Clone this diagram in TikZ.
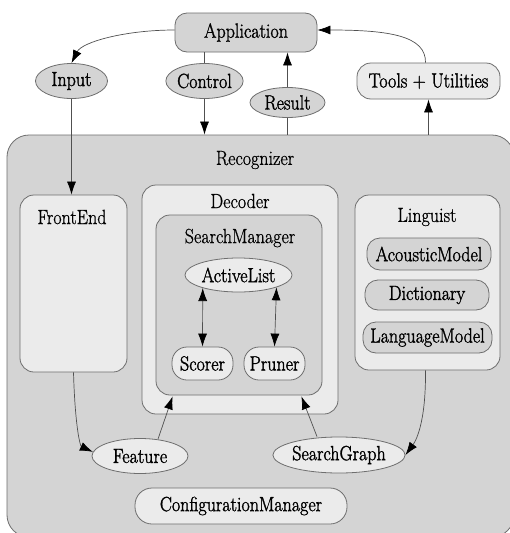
\documentclass[tikz,border=0pt]{standalone}
\usepackage{fontspec}
\usepackage{graphicx}
\setmainfont{Latin Modern Roman}[FakeBold=0.8]
\newfontfamily\lblfont{Latin Modern Roman}[FakeBold=1.6]
\usetikzlibrary{shapes.geometric,arrows.meta,calc}
\definecolor{dk}{HTML}{D4D4D4}
\definecolor{lt}{HTML}{EBEBEB}
\definecolor{bd}{HTML}{6E6E6E}
\definecolor{ln}{HTML}{505050}
\newcommand{\cz}[1]{\scalebox{0.88}[1]{#1}}
\begin{document}
\begin{tikzpicture}[x=1pt,y=-1pt,
  every node/.style={font=\fontsize{20.5}{24}\selectfont, inner sep=0pt},
  boxdk/.style={draw=bd, line width=0.8pt, fill=dk, rectangle, rounded corners=14pt},
  boxlt/.style={draw=bd, line width=0.8pt, fill=lt, rectangle, rounded corners=14pt},
  pilldk/.style={draw=bd, line width=0.8pt, fill=dk, rectangle, rounded corners=13pt, font=\lblfont\fontsize{20.5}{24}\selectfont},
  pilllt/.style={draw=bd, line width=0.8pt, fill=lt, rectangle, rounded corners=14pt, font=\lblfont\fontsize{20.5}{24}\selectfont},
  elldk/.style={draw=bd, line width=0.8pt, fill=dk, ellipse, font=\lblfont\fontsize{20.5}{24}\selectfont},
  elllt/.style={draw=bd, line width=0.8pt, fill=lt, ellipse, font=\lblfont\fontsize{20.5}{24}\selectfont},
  plain/.style={draw=ln, line width=0.7pt},
  arr/.style={draw=ln, line width=0.7pt, -{Latex[length=13pt,width=9pt,color=black]}},
  darr/.style={draw=ln, line width=0.7pt, {Latex[length=13pt,width=9pt,color=black]}-{Latex[length=13pt,width=9pt,color=black]}}]
\useasboundingbox (0,0) rectangle (510,533);
\fill[white] (0,0) rectangle (510,533);

% Recognizer
\node[boxdk, rounded corners=22pt, minimum width=507pt, minimum height=402pt] (rec) at (260.5,336) {};
\node (reclbl) at (255,160) {\cz{Recognizer}};

% top level
\node[pilldk, rounded corners=12pt, minimum width=142pt, minimum height=39pt] (app) at (246,32.5) {\cz{Application}};
\node[elldk, minimum width=72pt, minimum height=35pt] (inp) at (71.5,81) {\cz{Input}};
\node[elldk, minimum width=70pt, minimum height=35pt] (ctrl) at (204.5,81) {\cz{Control}};
\node[elldk, minimum width=75pt, minimum height=30pt] (res) at (287.5,102.5) {\cz{Result}};
\node[pilllt, rounded corners=14pt, minimum width=143pt, minimum height=36pt] (tools) at (428.5,81) {\cz{Tools + Utilities}};

% FrontEnd
\node[boxlt, minimum width=107pt, minimum height=177pt] (fe) at (73.5,283.5) {};
\node (felbl) at (72,217) {\cz{FrontEnd}};

% Decoder
\node[boxlt, minimum width=196pt, minimum height=229pt] (dec) at (240,299.5) {};
\node (declbl) at (240,201) {\cz{Decoder}};
\node[boxdk, minimum width=166pt, minimum height=180pt] (sm) at (239,305) {};
\node (smlbl) at (240,238) {\cz{SearchManager}};
\node[elllt, minimum width=107pt, minimum height=34pt] (al) at (238.5,275) {\cz{ActiveList}};
\node[pilllt, rounded corners=15pt, minimum width=61pt, minimum height=33pt] (sc) at (202.5,363.5) {\cz{Scorer}};
\node[pilllt, rounded corners=15pt, minimum width=61pt, minimum height=33pt] (pr) at (274.5,363.5) {\cz{Pruner}};

% Linguist
\node[boxlt, minimum width=145pt, minimum height=175pt] (ling) at (427.5,282.5) {};
\node (linglbl) at (427,217) {\cz{Linguist}};
\node[pilldk, minimum width=124pt, minimum height=32pt] (am) at (429,254) {\cz{AcousticModel}};
\node[pilldk, minimum width=124pt, minimum height=30pt] (dict) at (427,295) {\cz{Dictionary}};
\node[pilldk, minimum width=129pt, minimum height=31pt] (lm) at (427.5,337.5) {\cz{LanguageModel}};

% bottom
\node[elllt, minimum width=96pt, minimum height=35pt] (feat) at (140,456) {\cz{Feature}};
\node[elllt, minimum width=122pt, minimum height=36pt] (sg) at (339,455) {\cz{SearchGraph}};
\node[pilllt, rounded corners=17pt, minimum width=212pt, minimum height=36pt] (cm) at (241,506) {\cz{ConfigurationManager}};

% connectors top
\draw[arr] (app.west |- 0,30) .. controls (125,30) and (82,42) .. (inp.north);
\draw[plain] (app.south -| ctrl.north) -- (ctrl.north);
\draw[arr] (ctrl.south) -- (ctrl.south |- rec.north);
\draw[plain] (res.south |- rec.north) -- (res.south);
\draw[arr] (res.north) -- (res.north |- app.south);
\draw[arr] (tools.south |- rec.north) -- (tools.south);
\draw[arr] ($(tools.north)+(-3,0)$) .. controls (426,36) and (390,30) .. (app.east |- 0,30);
\draw[arr] (inp.south) -- (inp.south |- fe.north);

% inside
\draw[darr] (al.200) -- (sc.north);
\draw[darr] (al.342) -- (pr.north);
\draw[arr] (fe.south) .. controls (75,425) and (80,446) .. (feat.175);
\draw[arr] ($(feat.north)+(18,1)$) -- ($(sm.south west)+(17,1)$);
\draw[arr] ($(sg.north)+(-22,0)$) -- ($(sm.south east)+(-21,1)$);
\draw[arr] ($(ling.south)+(-2,0)$) .. controls (426,425) and (415,442) .. (sg.east);
\end{tikzpicture}
\end{document}
